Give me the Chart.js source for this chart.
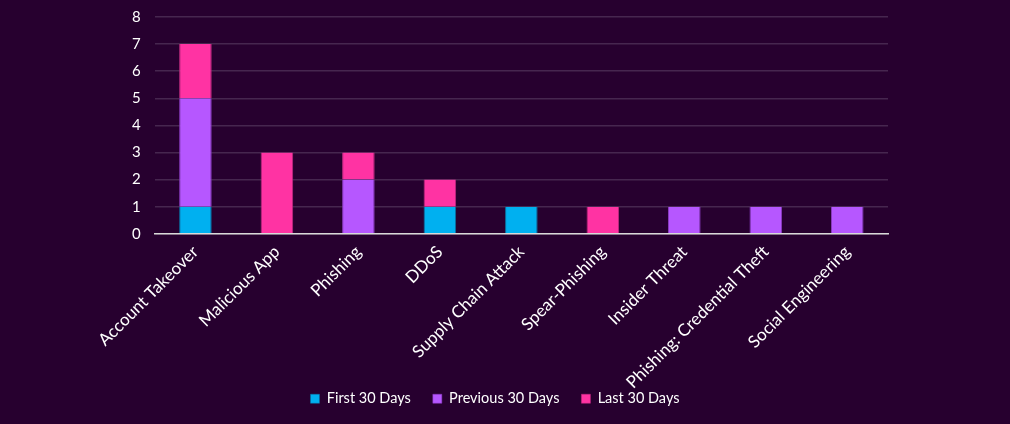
<!DOCTYPE html>
<html><head><meta charset="utf-8">
<script src="https://cdn.jsdelivr.net/npm/chart.js@4"></script>
<style>
html,body{margin:0;padding:0;background:#27002f;}
#wrap{width:1010px;height:424px;position:relative;}
</style></head>
<body><div id="wrap"><canvas id="c"></canvas></div>
<script>
const categories = ["Account Takeover","Malicious App","Phishing","DDoS","Supply Chain Attack","Spear-Phishing","Insider Threat","Phishing: Credential Theft","Social Engineering"];
const firstDays = [1,0,0,1,1,0,0,0,0];
const previousDays = [4,0,2,0,0,0,1,1,1];
const lastDays = [2,3,1,1,0,1,0,0,0];
const seriesNames = ["First 30 Days","Previous 30 Days","Last 30 Days"];

const font = "'Lato','Open Sans',sans-serif";
new Chart(document.getElementById('c'), {
  type: 'bar',
  data: {
    labels: categories,
    datasets: [
      {label: seriesNames[0], data: firstDays, backgroundColor: '#00b0f0', borderColor:'#0a70a0', borderWidth:{right:1,left:1}, categoryPercentage:1, barPercentage:0.4},
      {label: seriesNames[1], data: previousDays, backgroundColor: '#b657ff', borderColor:'#8a3bc0', borderWidth:{right:1,left:1}, categoryPercentage:1, barPercentage:0.4},
      {label: seriesNames[2], data: lastDays, backgroundColor: '#ff33a3', borderColor:'#c02a80', borderWidth:{right:1,left:1}, categoryPercentage:1, barPercentage:0.4}
    ]
  },
  options: {
    responsive: true, maintainAspectRatio: false, animation: false,
    layout: {padding: {left: 102, right: 122, top: 0, bottom: 8}},
    plugins: {
      legend: {position: 'bottom', labels: {color: '#ffffff', boxWidth: 9, boxHeight: 9, padding: 22, font: {family: font, size: 14.5}}},
      tooltip: {enabled: false}
    },
    scales: {
      x: {stacked: true,
          grid: {display: false},
          border: {color: '#d9d9d9', width: 1.5},
          afterFit: (axis) => { axis.height -= 23; axis._computeLabelArea = () => undefined; },
          ticks: {color: '#ffffff', maxRotation: 45, minRotation: 45, font: {family: font, size: 17}, padding: 0}},
      y: {stacked: true, min: 0, max: 8,
          grid: {color: '#46264f', lineWidth: 1.5, drawTicks: false},
          border: {display: false},
          afterFit: (axis) => { axis.width += 16; axis.paddingTop = 17; },
          ticks: {stepSize: 1, color: '#ffffff', padding: 14, font: {family: font, size: 15}}}
    }
  }
});
</script></body></html>
